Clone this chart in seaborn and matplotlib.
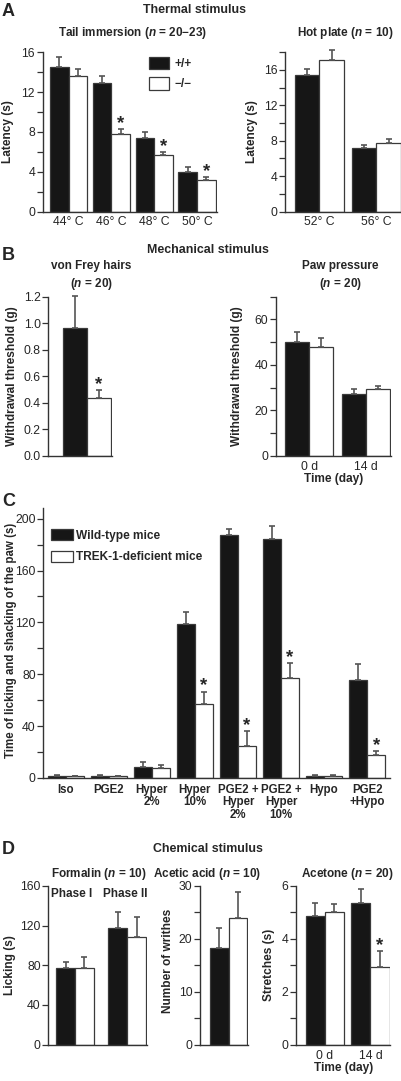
import numpy as np
import pandas as pd
import matplotlib
matplotlib.use('Agg')
import matplotlib.pyplot as plt
import seaborn as sns
from matplotlib.patches import Patch
from matplotlib.ticker import MultipleLocator

# ---- values ----
geno = ['+/+', '−/−']

tail_temps = ['44° C', '46° C', '48° C', '50° C']
tail_wt = [14.55, 12.95, 7.4, 4.0]
tail_wt_err = [0.95, 0.7, 0.6, 0.43]
tail_ko = [13.65, 7.75, 5.7, 3.15]
tail_ko_err = [0.63, 0.5, 0.23, 0.27]

hot_temps = ['52° C', '56° C']
hot_wt = [15.45, 7.2]
hot_wt_err = [0.7, 0.37]
hot_ko = [17.1, 7.7]
hot_ko_err = [1.15, 0.5]

frey_cat = ['von Frey']
frey_wt = [0.966]
frey_wt_err = [0.24]
frey_ko = [0.44]
frey_ko_err = [0.057]

paw_days = ['0 d', '14 d']
paw_wt = [50.2, 27.0]
paw_wt_err = [4.1, 2.2]
paw_ko = [48.0, 29.5]
paw_ko_err = [3.9, 1.3]

osmo_cats = ['Iso', 'PGE2', 'Hyper\n2%', 'Hyper\n10%', 'PGE2 +\nHyper\n2%',
             'PGE2 +\nHyper\n10%', 'Hypo', 'PGE2\n+Hypo']
osmo_wt = [1.8, 1.8, 8.7, 119.0, 187.6, 184.6, 1.8, 75.6]
osmo_wt_err = [0.5, 0.5, 3.6, 9.3, 4.6, 9.4, 0.5, 12.1]
osmo_ko = [1.2, 1.2, 7.4, 57.2, 24.6, 77.2, 1.2, 17.9]
osmo_ko_err = [0.3, 0.3, 2.6, 9.5, 11.3, 11.5, 0.8, 2.9]

formalin_phase = ['Phase I', 'Phase II']
formalin_wt = [77.5, 117.9]
formalin_wt_err = [6.0, 16.1]
formalin_ko = [76.8, 108.8]
formalin_ko_err = [11.8, 19.5]

acetic_cat = ['Acetic acid']
acetic_wt = [18.3]
acetic_wt_err = [3.8]
acetic_ko = [24.0]
acetic_ko_err = [4.9]

acetone_days = ['0 d', '14 d']
acetone_wt = [4.86, 5.36]
acetone_wt_err = [0.5, 0.51]
acetone_ko = [5.0, 2.92]
acetone_ko_err = [0.33, 0.62]

# ---- style ----
sns.set_theme(style='ticks')
plt.rcParams['font.family'] = ['Liberation Sans', 'DejaVu Sans']
plt.rcParams['mathtext.fontset'] = 'custom'
plt.rcParams['mathtext.it'] = 'Liberation Sans:italic:bold'
plt.rcParams['mathtext.rm'] = 'Liberation Sans:bold'
plt.rcParams['axes.edgecolor'] = '#333333'
plt.rcParams['axes.linewidth'] = 1.0

TICK = 8.8     # y tick numbers
XT = 8.8       # x tick labels
YLAB = 8.6     # bold axis labels
LEG = 8.6
TITLE = 8.5
HEAD = 8.9

BLACK = '#161616'
EDGE = '#3a3a3a'
ERR = '#555555'

W, H = 402, 1081
fig = plt.figure(figsize=(W / 100, H / 100), dpi=100)


def add_ax(x0, x1, y0, y1):
    return fig.add_axes([x0 / W, 1 - y1 / H, (x1 - x0) / W, (y1 - y0) / H])


def ftext(x, y, s, **kw):
    fig.text(x / W, 1 - y / H, s, ha=kw.pop('ha', 'center'), va=kw.pop('va', 'center'), **kw)


def bars(ax, cats, wt, wt_err, ko, ko_err, width):
    df = pd.DataFrame({
        'cat': list(cats) * 2,
        'geno': [geno[0]] * len(cats) + [geno[1]] * len(cats),
        'val': list(wt) + list(ko),
    })
    sns.barplot(data=df, x='cat', y='val', hue='geno', order=cats, hue_order=geno,
                palette={geno[0]: BLACK, geno[1]: 'white'}, saturation=1,
                width=width, gap=0, edgecolor=EDGE, linewidth=0.9,
                errorbar=None, legend=False, ax=ax)
    centers = []
    for cont, vals, errs in zip(ax.containers, [wt, ko], [wt_err, ko_err]):
        xs = [p.get_x() + p.get_width() / 2 for p in cont.patches]
        centers.append(xs)
        ax.errorbar(xs, vals, yerr=[np.zeros(len(vals)), errs], fmt='none',
                    ecolor=ERR, elinewidth=1.2, capsize=2.4, capthick=1.2,
                    clip_on=False)
    sns.despine(ax=ax)
    ax.set_xlabel('')
    ax.set_ylabel('')
    ax.tick_params(axis='y', which='both', direction='out', length=4, width=0.9,
                   color='#333333', labelsize=TICK, pad=1.5)
    ax.tick_params(axis='x', length=0, labelsize=XT, pad=3)
    return centers


def stars(ax, xs, vals, errs, idx):
    for i in idx:
        ax.annotate('*', (xs[i], vals[i] + errs[i]), xytext=(0, -2),
                    textcoords='offset points', ha='center', va='bottom',
                    fontsize=13.5, fontweight='bold', annotation_clip=False)


def ylab(ax, text, x_right, box, yfrac=0.5, size=YLAB):
    x0, x1 = box
    ax.set_ylabel(text, fontsize=size, fontweight='bold')
    ax.yaxis.set_label_coords((x_right - x0) / (x1 - x0), yfrac)


def legend(ax, labels, x_px, y_px, box, hl, hh, ls, tp):
    x0, x1, y0, y1 = box
    handles = [Patch(facecolor=BLACK, edgecolor=EDGE, lw=0.9),
               Patch(facecolor='white', edgecolor=EDGE, lw=0.9)]
    ax.legend(handles, labels, loc='upper left',
              bbox_to_anchor=((x_px - x0) / (x1 - x0), (y1 - y_px) / (y1 - y0)),
              frameon=False, handlelength=hl, handleheight=hh, handletextpad=tp,
              labelspacing=ls, borderpad=0, borderaxespad=0,
              prop={'size': LEG, 'weight': 'bold'})


# ---- A: thermal ----
ftext(2, 12, 'A', ha='left', fontsize=13, fontweight='bold')
ftext(195, 10, 'Thermal stimulus', fontsize=HEAD, fontweight='bold')
ftext(133, 33, 'Tail immersion ($n$ = 20−23)', fontsize=TITLE, fontweight='bold')
ftext(345, 33, 'Hot plate ($n$ = 10)', fontsize=TITLE, fontweight='bold')

box = (42.7, 217, 52.3, 211.5)
ax = add_ax(*box)
c = bars(ax, tail_temps, tail_wt, tail_wt_err, tail_ko, tail_ko_err, 0.87)
stars(ax, c[1], tail_ko, tail_ko_err, [1, 2, 3])
ax.set_ylim(0, 16)
ax.set_xlim(-0.61, 3.47)
ax.yaxis.set_major_locator(MultipleLocator(4))
ax.yaxis.set_minor_locator(MultipleLocator(2))
ylab(ax, 'Latency (s)', 14, box[:2])
legend(ax, geno, 149, 57, box, 1.65, 1.2, 0.6, 0.5)

box = (285, 401.5, 52.3, 211.5)
ax = add_ax(*box)
bars(ax, hot_temps, hot_wt, hot_wt_err, hot_ko, hot_ko_err, 0.86)
ax.set_ylim(0, 18)
ax.set_xlim(-0.6, 1.44)
ax.yaxis.set_major_locator(MultipleLocator(4))
ax.yaxis.set_minor_locator(MultipleLocator(2))
ylab(ax, 'Latency (s)', 258, box[:2])

# ---- B: mechanical ----
ftext(2, 255, 'B', ha='left', fontsize=13, fontweight='bold')
ftext(208, 250, 'Mechanical stimulus', fontsize=HEAD, fontweight='bold')
ftext(91, 276, 'von Frey hairs\n($n$ = 20)', fontsize=TITLE, fontweight='bold', linespacing=1.3)
ftext(340, 276, 'Paw pressure\n($n$ = 20)', fontsize=TITLE, fontweight='bold', linespacing=1.3)

box = (48.3, 111.7, 296.7, 456)
ax = add_ax(*box)
c = bars(ax, frey_cat, frey_wt, frey_wt_err, frey_ko, frey_ko_err, 0.8)
stars(ax, c[1], frey_ko, frey_ko_err, [0])
ax.set_ylim(0, 1.2)
ax.set_xlim(-0.64, 0.41)
ax.set_yticks(np.arange(0, 1.21, 0.2))
ax.set_yticklabels([f'{v:.1f}' for v in np.arange(0, 1.21, 0.2)])
ax.set_xticks([])
ylab(ax, 'Withdrawal threshold (g)', 18, box[:2])

box = (275.7, 390.7, 296.7, 455.7)
ax = add_ax(*box)
bars(ax, paw_days, paw_wt, paw_wt_err, paw_ko, paw_ko_err, 0.84)
ax.set_ylim(0, 70)
ax.set_xlim(-0.59, 1.44)
ax.yaxis.set_major_locator(MultipleLocator(20))
ax.yaxis.set_minor_locator(MultipleLocator(10))
ax.tick_params(axis='x', pad=4)
ax.set_xlabel('Time (day)', fontsize=YLAB, fontweight='bold', labelpad=0)
ylab(ax, 'Withdrawal threshold (g)', 243, box[:2])

# ---- C: osmotic ----
ftext(2, 502, 'C', ha='left', fontsize=13, fontweight='bold')
box = (43.3, 390, 508.3, 778)
ax = add_ax(*box)
c = bars(ax, osmo_cats, osmo_wt, osmo_wt_err, osmo_ko, osmo_ko_err, 0.83)
stars(ax, c[1], osmo_ko, osmo_ko_err, [3, 4, 5, 7])
ax.set_ylim(0, 208)
ax.set_xlim(-0.52, 7.53)
ax.yaxis.set_major_locator(MultipleLocator(40))
ax.yaxis.set_minor_locator(MultipleLocator(20))
ax.tick_params(axis='x', pad=4)
for t in ax.get_xticklabels():
    t.set_fontweight('bold')
    t.set_fontsize(8.3)
    t.set_linespacing(1.1)
ylab(ax, 'Time of licking and shacking of the paw (s)', 17, box[:2], 0.51, 8.3)
legend(ax, ['Wild-type mice', 'TREK-1-deficient mice'], 51, 529, box, 1.8, 1.05, 0.75, 0.3)

# ---- D: chemical ----
ftext(2, 850, 'D', ha='left', fontsize=13, fontweight='bold')
ftext(208, 849, 'Chemical stimulus', fontsize=HEAD, fontweight='bold')
ftext(99, 874, 'Formalin ($n$ = 10)', fontsize=TITLE, fontweight='bold')
ftext(207.5, 874, 'Acetic acid ($n$ = 10)', fontsize=TITLE, fontweight='bold')
ftext(347.5, 874, 'Acetone ($n$ = 20)', fontsize=TITLE, fontweight='bold')

box = (48.3, 146.7, 886, 1044.5)
ax = add_ax(*box)
bars(ax, formalin_phase, formalin_wt, formalin_wt_err, formalin_ko, formalin_ko_err, 0.72)
ax.set_ylim(0, 160)
ax.set_xlim(-0.51, 1.37)
ax.yaxis.set_major_locator(MultipleLocator(40))
ax.set_xticks([])
for x, name in zip([71.7, 125.6], formalin_phase):
    ftext(x, 894, name, fontsize=TITLE, fontweight='bold')
ylab(ax, 'Licking (s)', 16, box[:2])

box = (200, 247.7, 886, 1044.5)
ax = add_ax(*box)
bars(ax, acetic_cat, acetic_wt, acetic_wt_err, acetic_ko, acetic_ko_err, 0.8)
ax.set_ylim(0, 30)
ax.set_xlim(-0.62, 0.41)
ax.yaxis.set_major_locator(MultipleLocator(10))
ax.yaxis.set_minor_locator(MultipleLocator(5))
ax.set_xticks([])
ylab(ax, 'Number of writhes', 174, box[:2], 0.53)

box = (296, 390.5, 886, 1044.5)
ax = add_ax(*box)
c = bars(ax, acetone_days, acetone_wt, acetone_wt_err, acetone_ko, acetone_ko_err, 0.84)
stars(ax, c[1], acetone_ko, acetone_ko_err, [1])
ax.set_ylim(0, 6)
ax.set_xlim(-0.63, 1.44)
ax.yaxis.set_major_locator(MultipleLocator(2))
ax.yaxis.set_minor_locator(MultipleLocator(1))
ax.tick_params(axis='x', pad=4)
ax.set_xlabel('Time (day)', fontsize=YLAB, fontweight='bold', labelpad=0)
ylab(ax, 'Stretches (s)', 275, box[:2])

fig.savefig('out.png', dpi=100)
